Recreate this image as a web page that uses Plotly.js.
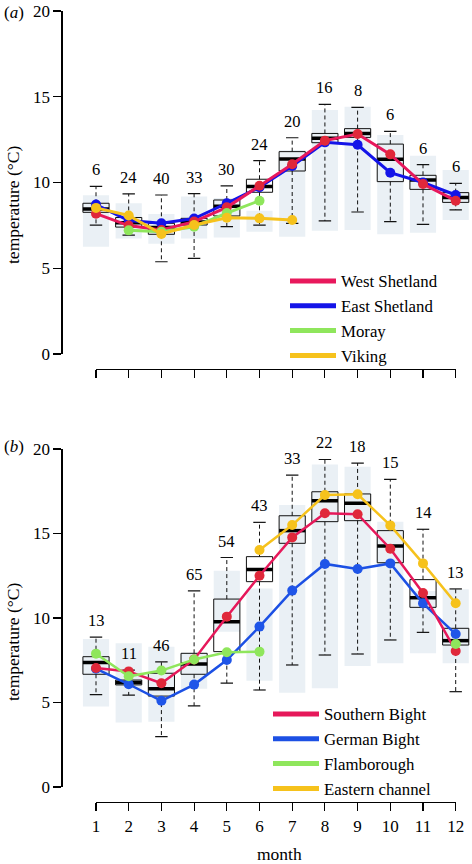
<!DOCTYPE html>
<html>
<head>
<meta charset="utf-8">
<script src="https://cdn.plot.ly/plotly-3.0.1.min.js"></script>
<style>html,body{margin:0;padding:0;background:#fff;}#chart{width:472px;height:864px;}</style>
</head>
<body>
<div id="chart"></div>
<script>
// ---------- data ----------
const months = [1,2,3,4,5,6,7,8,9,10,11,12];
const monthLabels = ['1','2','3','4','5','6','7','8','9','10','11','12'];

// panel (a)
const aCounts   = [6,24,40,33,30,24,20,16,8,6,6,6];
const aQ1       = [8.26,7.40,6.98,7.52,8.05,9.43,10.67,12.32,12.63,10.05,9.60,8.84];
const aQ3       = [8.79,7.96,7.62,7.91,8.98,10.19,11.80,12.86,13.14,12.24,10.42,9.41];
const aMed      = [8.45,7.66,7.37,7.70,8.62,9.76,11.37,12.58,12.86,11.35,10.15,9.12];
const aWhiskLo  = [7.52,6.93,5.38,5.58,7.43,7.52,7.62,7.76,8.28,7.72,7.56,8.40];
const aWhiskHi  = [9.77,9.34,9.27,9.35,9.80,11.27,12.61,14.56,14.38,12.98,11.04,9.95];
const aBgLo     = [6.26,6.73,6.43,6.73,6.79,7.13,6.84,7.19,7.23,6.98,7.07,7.81];
const aBgHi     = [9.26,8.79,8.16,9.19,9.10,8.36,11.90,14.23,14.42,12.77,11.56,10.73];
const westShetland = [8.18,7.49,7.23,7.72,8.55,9.81,11.06,12.44,12.83,11.64,9.91,8.94];
const eastShetland = [8.71,7.78,7.62,7.90,8.79,9.72,10.96,12.34,12.20,10.57,10.00,9.27];
const moray        = [null,7.21,7.13,7.42,8.22,8.94,null,null,null,null,null,null];
const viking       = [8.52,8.08,7.00,7.52,7.94,7.91,7.81,null,null,null,null,null];

// panel (b)
const bCounts   = [13,11,46,65,54,43,33,22,18,15,14,13];
const bQ1       = [6.67,6.04,5.38,6.67,8.01,12.15,14.42,15.70,15.76,13.27,10.63,8.40];
const bQ3       = [7.71,6.33,6.73,7.91,11.12,13.63,16.05,17.47,17.34,15.17,12.27,9.39];
const bMed      = [7.37,6.18,5.82,7.28,9.78,12.87,15.17,16.94,16.79,14.26,11.20,8.66];
const bWhiskLo  = [5.47,5.44,2.98,4.80,6.15,5.74,7.22,7.81,7.87,8.70,9.15,5.64];
const bWhiskHi  = [8.87,6.92,7.40,11.60,13.58,15.66,18.46,19.38,19.17,18.20,15.25,11.72];
const bBgLo     = [4.77,3.81,3.86,5.82,9.19,6.29,5.58,5.84,7.16,7.32,7.91,7.32];
const bBgHi     = [8.76,8.50,8.30,7.95,12.80,11.75,16.69,19.09,18.95,15.70,11.60,11.70];
const southernBight  = [7.04,6.84,6.14,7.55,10.08,12.50,14.77,16.20,16.14,14.10,11.48,8.05];
const germanBight    = [7.00,6.08,5.10,6.06,7.51,9.49,11.62,13.20,12.90,13.23,10.87,9.05];
const flamborough    = [7.89,6.55,6.89,7.54,7.97,8.01,null,null,null,null,null,8.46];
const easternChannel = [null,null,null,null,null,14.02,15.50,17.28,17.32,15.48,13.23,10.87];

const yTicks = [0,5,10,15,20];

// ---------- styling ----------
const FONT = 'Liberation Serif, Times New Roman, Times, serif';
const W = 472, H = 864;
const BG = '#eaf0f5';
const BOXW = 0.8, CAPW = 0.38;

const mPx1 = 96, mPx12 = 455.7, mStep = (mPx12 - mPx1) / 11;
const plotL = 62.5, plotR = 470;
const xRange = [1 - (mPx1 - plotL) / mStep, 1 + (plotR - mPx1) / mStep];

function boxTraces(xa, ya, q1, q3, med, lo, hi, bgLo, bgHi) {
  const t = [];
  t.push({type:'bar', x: months, base: bgLo, y: bgHi.map((v,i)=>v-bgLo[i]), width: BOXW,
    marker:{color: BG, line:{width:0}}, xaxis: xa, yaxis: ya, showlegend:false, hoverinfo:'skip'});
  t.push({type:'bar', x: months, base: q1, y: q3.map((v,i)=>v-q1[i]), width: BOXW,
    marker:{color:'rgba(0,0,0,0)', line:{color:'#111', width:1}}, xaxis: xa, yaxis: ya, showlegend:false, hoverinfo:'skip'});
  const wx = [], wy = [], cx = [], cy = [], mx = [], my = [];
  months.forEach((m,i)=>{
    wx.push(m, m, null, m, m, null);
    wy.push(q3[i], hi[i], null, q1[i], lo[i], null);
    cx.push(m-CAPW/2, m+CAPW/2, null, m-CAPW/2, m+CAPW/2, null);
    cy.push(hi[i], hi[i], null, lo[i], lo[i], null);
    mx.push(m-BOXW/2, m+BOXW/2, null);
    my.push(med[i], med[i], null);
  });
  t.push({type:'scatter', mode:'lines', x: wx, y: wy, line:{color:'#111', width:1, dash:'4px,3px'},
    xaxis: xa, yaxis: ya, showlegend:false, hoverinfo:'skip'});
  t.push({type:'scatter', mode:'lines', x: cx, y: cy, line:{color:'#111', width:1.2},
    xaxis: xa, yaxis: ya, showlegend:false, hoverinfo:'skip'});
  t.push({type:'scatter', mode:'lines', x: mx, y: my, line:{color:'#000', width:3.5},
    xaxis: xa, yaxis: ya, showlegend:false, hoverinfo:'skip'});
  return t;
}

function series(xa, ya, y, lineColor, markerColor, lw) {
  return {type:'scatter', mode:'lines+markers', x: months, y: y, connectgaps:false,
    line:{color: lineColor, width: lw}, marker:{color: markerColor, size: 10},
    xaxis: xa, yaxis: ya, showlegend:false, hoverinfo:'skip'};
}
function legendItem(name, color, leg) {
  return {type:'scatter', mode:'lines', x:[null], y:[null], name: name,
    line:{color: color, width: 5}, legend: leg, showlegend: true, hoverinfo:'skip'};
}

const C = {
  aRed:'#e8185c', aBlue:'#1414e8', red:'#e0283a', bRed:'#e6185a', bBlue:'#1c50e4', bBlueM:'#1f55e8',
  green:'#8fe65c', yellow:'#f6c21c'
};

const data = [];
data.push(...boxTraces('x','y', aQ1, aQ3, aMed, aWhiskLo, aWhiskHi, aBgLo, aBgHi));
data.push(series('x','y', eastShetland, C.aBlue, C.aBlue, 3));
data.push(series('x','y', westShetland, C.aRed, C.red, 3));
data.push(series('x','y', moray, C.green, C.green, 3));
data.push(series('x','y', viking, C.yellow, C.yellow, 3));

data.push(...boxTraces('x2','y2', bQ1, bQ3, bMed, bWhiskLo, bWhiskHi, bBgLo, bBgHi));
data.push(series('x2','y2', germanBight, C.bBlue, C.bBlueM, 2.5));
data.push(series('x2','y2', southernBight, C.bRed, C.red, 2.5));
data.push(series('x2','y2', flamborough, C.green, C.green, 2.5));
data.push(series('x2','y2', easternChannel, C.yellow, C.yellow, 2.5));

// dummy traces to realise the offset month axes
data.push({type:'scatter', mode:'markers', x:[1], y:[null], xaxis:'x3', yaxis:'y', showlegend:false, hoverinfo:'skip'});
data.push({type:'scatter', mode:'markers', x:[1], y:[null], xaxis:'x4', yaxis:'y2', showlegend:false, hoverinfo:'skip'});

// legends
data.push(legendItem('West Shetland', C.aRed, 'legend'));
data.push(legendItem('East Shetland', C.aBlue, 'legend'));
data.push(legendItem('Moray', C.green, 'legend'));
data.push(legendItem('Viking', C.yellow, 'legend'));
data.push(legendItem('Southern Bight', C.bRed, 'legend2'));
data.push(legendItem('German Bight', C.bBlue, 'legend2'));
data.push(legendItem('Flamborough', C.green, 'legend2'));
data.push(legendItem('Eastern channel', C.yellow, 'legend2'));

const px = v => v / W;
const py = v => 1 - v / H;

function yAxis(dom) {
  return {domain: dom, range:[0,20], tickvals: yTicks, ticktext: yTicks.map(String),
    showgrid:false, zeroline:false, showline:true, linecolor:'#000', linewidth:1.2,
    ticks:'outside', ticklen:8, tickwidth:1.2, tickcolor:'#000',
    tickfont:{family:FONT, size:17, color:'#000'}, fixedrange:true};
}
function dataX() {
  return {domain:[px(plotL), px(plotR)], range: xRange, visible:false, fixedrange:true};
}
function monthAxis(pos, labels) {
  return {domain:[px(mPx1), px(mPx12)], range:[1,12], anchor:'free', position: pos,
    tickvals: months, ticktext: monthLabels, showticklabels: labels,
    showgrid:false, zeroline:false, showline:true, linecolor:'#000', linewidth:1.2,
    ticks:'outside', ticklen:8, tickwidth:1.2, tickcolor:'#000', ticklabelstandoff: 0,
    tickfont:{family:FONT, size:17, color:'#000'}, fixedrange:true};
}

const annotations = [];
function counts(xa, ya, hi, n) {
  months.forEach((m,i)=>{
    annotations.push({xref:xa, yref:ya, x:m, y:hi[i], text:String(n[i]), showarrow:false,
      yanchor:'bottom', yshift:5, font:{family:FONT, size:16.5, color:'#000'}});
  });
}
counts('x','y', aWhiskHi, aCounts);
counts('x2','y2', bWhiskHi, bCounts);
annotations.push({xref:'paper', yref:'paper', x:px(2), y:py(13), xanchor:'left', yanchor:'middle',
  text:'(<i>a</i>)', showarrow:false, font:{family:FONT, size:17, color:'#000'}});
annotations.push({xref:'paper', yref:'paper', x:px(2), y:py(446), xanchor:'left', yanchor:'middle',
  text:'(<i>b</i>)', showarrow:false, font:{family:FONT, size:17, color:'#000'}});
[[205],[642]].forEach(([c])=>{
  annotations.push({xref:'paper', yref:'paper', x:px(13), y:py(c), xanchor:'center', yanchor:'middle',
    text:'temperature (°C)', textangle:-90, showarrow:false, font:{family:FONT, size:17.5, color:'#000'}});
});
annotations.push({xref:'paper', yref:'paper', x:px(279), y:py(854), xanchor:'center', yanchor:'middle',
  text:'month', showarrow:false, font:{family:FONT, size:17.5, color:'#000'}});

const legFont = {family:FONT, size:16.8, color:'#000'};
const layout = {
  width: W, height: H, margin:{l:0,r:0,t:0,b:0}, paper_bgcolor:'#fff', plot_bgcolor:'rgba(0,0,0,0)',
  barmode:'overlay', showlegend:true,
  xaxis: dataX(), yaxis: yAxis([py(354), py(11)]),
  xaxis2: Object.assign(dataX(), {anchor:'y2'}), yaxis2: Object.assign(yAxis([py(787), py(449)]), {anchor:'x2'}),
  xaxis3: monthAxis(py(369), false),
  xaxis4: monthAxis(py(802), true),
  legend: {x: px(285), y: py(263.5), xanchor:'left', yanchor:'top', bgcolor:'rgba(0,0,0,0)',
    font: legFont, itemwidth: 46, tracegroupgap:0, traceorder:'normal'},
  legend2: {x: px(268), y: py(696.5), xanchor:'left', yanchor:'top', bgcolor:'rgba(0,0,0,0)',
    font: legFont, itemwidth: 46, tracegroupgap:0, traceorder:'normal'},
  annotations: annotations
};

Plotly.newPlot('chart', data, layout, {displayModeBar:false, staticPlot:true});
</script>
</body>
</html>
